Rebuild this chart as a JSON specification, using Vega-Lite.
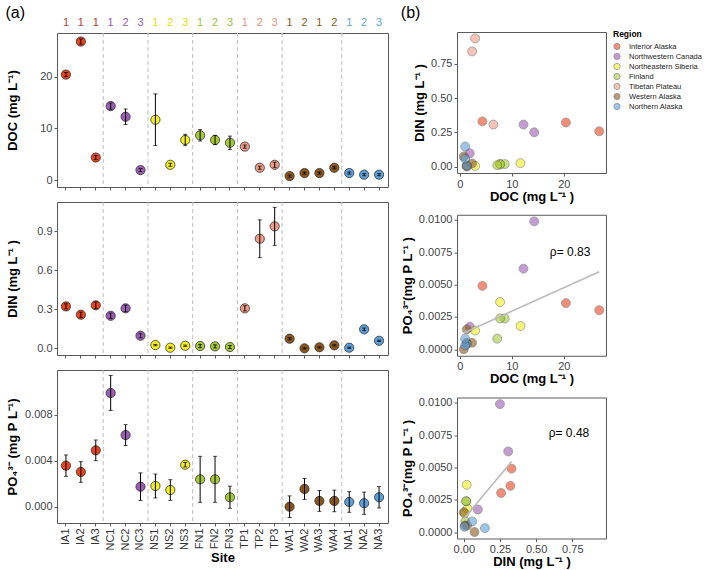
{
  "$schema": "https://vega.github.io/schema/vega-lite/v6.json",
  "padding": 5,
  "config": {
    "font": "Liberation Sans",
    "view": {"stroke": "#5a5a5a", "strokeWidth": 1},
    "axis": {"domain": false, "grid": false, "tickColor": "#5a5a5a", "tickSize": 3, "labelColor": "#444", "labelFontSize": 11, "labelFont": "Liberation Sans", "titleFont": "Liberation Sans", "titleFontSize": 13, "titleFontWeight": "bold", "titleColor": "black", "labelPadding": 2, "titlePadding": 4},
    "title": {"font": "Liberation Sans", "fontSize": 16, "fontWeight": "normal", "anchor": "start", "frame": "bounds", "color": "black", "offset": -7}
  },
  "datasets": {
    "sites": [
      {"site": "IA1", "region": "Interior Alaska", "rep": "1", "doc": 20.4, "doc_se": 0.4, "din": 0.322, "din_se": 0.02, "po4": 0.00357, "po4_se": 0.00093},
      {"site": "IA2", "region": "Interior Alaska", "rep": "1", "doc": 26.8, "doc_se": 0.5, "din": 0.258, "din_se": 0.02, "po4": 0.00302, "po4_se": 0.0009},
      {"site": "IA3", "region": "Interior Alaska", "rep": "1", "doc": 4.35, "doc_se": 0.4, "din": 0.33, "din_se": 0.025, "po4": 0.0049, "po4_se": 0.0009},
      {"site": "NC1", "region": "Northwestern Canada", "rep": "1", "doc": 14.3, "doc_se": 0.6, "din": 0.25, "din_se": 0.02, "po4": 0.00989, "po4_se": 0.00152},
      {"site": "NC2", "region": "Northwestern Canada", "rep": "2", "doc": 12.25, "doc_se": 1.5, "din": 0.307, "din_se": 0.025, "po4": 0.00623, "po4_se": 0.00091},
      {"site": "NC3", "region": "Northwestern Canada", "rep": "3", "doc": 1.92, "doc_se": 0.3, "din": 0.097, "din_se": 0.015, "po4": 0.00174, "po4_se": 0.0012},
      {"site": "NS1", "region": "Northeastern Siberia", "rep": "1", "doc": 11.67, "doc_se": 5.0, "din": 0.025, "din_se": 0.005, "po4": 0.0018, "po4_se": 0.00104},
      {"site": "NS2", "region": "Northeastern Siberia", "rep": "2", "doc": 2.95, "doc_se": 0.3, "din": 0.005, "din_se": 0.005, "po4": 0.00145, "po4_se": 0.0009},
      {"site": "NS3", "region": "Northeastern Siberia", "rep": "3", "doc": 7.75, "doc_se": 1.1, "din": 0.02, "din_se": 0.005, "po4": 0.00365, "po4_se": 0.0002},
      {"site": "FN1", "region": "Finland", "rep": "1", "doc": 8.65, "doc_se": 1.1, "din": 0.018, "din_se": 0.012, "po4": 0.00238, "po4_se": 0.002},
      {"site": "FN2", "region": "Finland", "rep": "2", "doc": 7.75, "doc_se": 0.9, "din": 0.015, "din_se": 0.012, "po4": 0.00238, "po4_se": 0.002},
      {"site": "FN3", "region": "Finland", "rep": "3", "doc": 7.2, "doc_se": 1.3, "din": 0.01, "din_se": 0.012, "po4": 0.00082, "po4_se": 0.00096},
      {"site": "TP1", "region": "Tibetan Plateau", "rep": "1", "doc": 6.47, "doc_se": 0.3, "din": 0.307, "din_se": 0.02, "po4": null, "po4_se": null},
      {"site": "TP2", "region": "Tibetan Plateau", "rep": "2", "doc": 2.37, "doc_se": 0.3, "din": 0.841, "din_se": 0.145, "po4": null, "po4_se": null},
      {"site": "TP3", "region": "Tibetan Plateau", "rep": "3", "doc": 2.95, "doc_se": 0.5, "din": 0.936, "din_se": 0.146, "po4": null, "po4_se": null},
      {"site": "WA1", "region": "Western Alaska", "rep": "1", "doc": 0.77, "doc_se": 0.2, "din": 0.074, "din_se": 0.008, "po4": 0.0, "po4_se": 0.00094},
      {"site": "WA2", "region": "Western Alaska", "rep": "2", "doc": 1.35, "doc_se": 0.2, "din": 0.0, "din_se": 0.005, "po4": 0.00154, "po4_se": 0.00091},
      {"site": "WA3", "region": "Western Alaska", "rep": "1", "doc": 1.35, "doc_se": 0.2, "din": 0.008, "din_se": 0.005, "po4": 0.0005, "po4_se": 0.00091},
      {"site": "WA4", "region": "Western Alaska", "rep": "2", "doc": 2.37, "doc_se": 0.2, "din": 0.023, "din_se": 0.005, "po4": 0.0005, "po4_se": 0.00094},
      {"site": "NA1", "region": "Northern Alaska", "rep": "1", "doc": 1.35, "doc_se": 0.2, "din": 0.005, "din_se": 0.005, "po4": 0.00041, "po4_se": 0.0009},
      {"site": "NA2", "region": "Northern Alaska", "rep": "2", "doc": 1.03, "doc_se": 0.2, "din": 0.146, "din_se": 0.01, "po4": 0.0003, "po4_se": 0.00097},
      {"site": "NA3", "region": "Northern Alaska", "rep": "3", "doc": 1.03, "doc_se": 0.2, "din": 0.058, "din_se": 0.005, "po4": 0.00082, "po4_se": 0.00093}
    ],
    "breaks": [{"site": "NC1"}, {"site": "NS1"}, {"site": "FN1"}, {"site": "TP1"}, {"site": "WA1"}, {"site": "NA1"}]
  },
  "resolve": {"scale": {"color": "independent"}, "legend": {"color": "independent"}},
  "spacing": 11,
  "hconcat": [
    {
      "title": {"text": "(a)"},
      "spacing": 10,
      "vconcat": [
        {
          "spacing": 0,
          "vconcat": [
            {
              "width": 331, "height": 18,
              "view": {"stroke": null},
              "data": {"name": "sites"},
              "mark": {"type": "text", "fontSize": 11},
              "encoding": {
                "x": {"field": "site", "type": "nominal", "sort": null, "axis": null,
                      "scale": {"type": "band", "paddingInner": 0, "paddingOuter": 0.1, "domain": ["IA1","IA2","IA3","NC1","NC2","NC3","NS1","NS2","NS3","FN1","FN2","FN3","TP1","TP2","TP3","WA1","WA2","WA3","WA4","NA1","NA2","NA3"]}},
                "text": {"field": "rep"},
                "fill": {"field": "region", "type": "nominal", "legend": null,
                         "scale": {"domain": ["Interior Alaska","Northwestern Canada","Northeastern Siberia","Finland","Tibetan Plateau","Western Alaska","Northern Alaska"],
                                   "range": ["#B23A2C","#9B59B6","#E6DA10","#99C23A","#E8907A","#8B5A1B","#5DA5DA"]}}
              }
            },
            {
              "width": 331, "height": 154,
              "layer": [
                {"data": {"name": "breaks"}, "mark": {"type": "rule", "color": "#bdbdbd", "strokeDash": [4, 3], "strokeWidth": 1},
                 "encoding": {"x": {"field": "site", "type": "nominal", "bandPosition": 0}}},
                {"mark": {"type": "rule", "color": "#333", "strokeWidth": 1}, "encoding": {"y": {"datum": 0}}},
                {"data": {"name": "sites"}, "mark": {"type": "point", "filled": true, "size": 85, "opacity": 1, "stroke": "#333", "strokeWidth": 0.8},
                 "encoding": {"y": {"field": "doc", "type": "quantitative"}, "x": {"field": "site", "type": "nominal"},
                              "color": {"field": "region", "type": "nominal", "legend": null,
                                        "scale": {"domain": ["Interior Alaska","Northwestern Canada","Northeastern Siberia","Finland","Tibetan Plateau","Western Alaska","Northern Alaska"],
                                                  "range": ["#E8441F","#9E5BB5","#F3F01A","#A6C93A","#EE9C87","#8A561B","#5C9FD6"]}}}},
                {"data": {"name": "sites"}, "mark": {"type": "errorbar", "color": "black", "thickness": 1, "ticks": {"size": 4, "color": "black"}},
                 "encoding": {"x": {"field": "site", "type": "nominal"}, "y": {"field": "doc", "type": "quantitative"}, "yError": {"field": "doc_se"}}}
              ],
              "encoding": {
                "x": {"field": "site", "type": "nominal", "sort": null,
                      "scale": {"type": "band", "paddingInner": 0, "paddingOuter": 0.1, "domain": ["IA1","IA2","IA3","NC1","NC2","NC3","NS1","NS2","NS3","FN1","FN2","FN3","TP1","TP2","TP3","WA1","WA2","WA3","WA4","NA1","NA2","NA3"]},
                      "axis": {"labels": false, "title": null, "ticks": true}},
                "y": {"type": "quantitative", "scale": {"domain": [-1.35, 28.45], "nice": false, "zero": false},
                      "axis": {"values": [0, 10, 20], "title": "DOC (mg L⁻¹)", "titleX": -38}}
              }
            }
          ]
        },
        {
          "width": 331, "height": 153,
          "layer": [
            {"data": {"name": "breaks"}, "mark": {"type": "rule", "color": "#bdbdbd", "strokeDash": [4, 3], "strokeWidth": 1},
             "encoding": {"x": {"field": "site", "type": "nominal", "bandPosition": 0}}},
            {"mark": {"type": "rule", "color": "#333", "strokeWidth": 1}, "encoding": {"y": {"datum": 0}}},
            {"data": {"name": "sites"}, "mark": {"type": "point", "filled": true, "size": 85, "opacity": 1, "stroke": "#333", "strokeWidth": 0.8},
             "encoding": {"y": {"field": "din", "type": "quantitative"}, "color": {"field": "region", "type": "nominal", "legend": null}, "x": {"field": "site", "type": "nominal"}}},
            {"data": {"name": "sites"}, "mark": {"type": "errorbar", "color": "black", "thickness": 1, "ticks": {"size": 4, "color": "black"}},
             "encoding": {"x": {"field": "site", "type": "nominal"}, "y": {"field": "din", "type": "quantitative"}, "yError": {"field": "din_se"}}}
          ],
          "encoding": {
            "x": {"field": "site", "type": "nominal", "sort": null,
                  "scale": {"type": "band", "paddingInner": 0, "paddingOuter": 0.1, "domain": ["IA1","IA2","IA3","NC1","NC2","NC3","NS1","NS2","NS3","FN1","FN2","FN3","TP1","TP2","TP3","WA1","WA2","WA3","WA4","NA1","NA2","NA3"]},
                  "axis": {"labels": false, "title": null, "ticks": true}},
            "y": {"type": "quantitative", "scale": {"domain": [-0.051, 1.123], "nice": false, "zero": false},
                  "axis": {"values": [0, 0.3, 0.6, 0.9], "format": ".1f", "title": "DIN (mg L⁻¹ )", "titleX": -38}}
          }
        },
        {
          "width": 331, "height": 153,
          "layer": [
            {"data": {"name": "breaks"}, "mark": {"type": "rule", "color": "#bdbdbd", "strokeDash": [4, 3], "strokeWidth": 1},
             "encoding": {"x": {"field": "site", "type": "nominal", "bandPosition": 0}}},
            {"mark": {"type": "rule", "color": "#333", "strokeWidth": 1}, "encoding": {"y": {"datum": 0}}},
            {"data": {"name": "sites"}, "transform": [{"filter": "isValid(datum.po4)"}],
             "mark": {"type": "point", "filled": true, "size": 85, "opacity": 1, "stroke": "#333", "strokeWidth": 0.8},
             "encoding": {"y": {"field": "po4", "type": "quantitative"}, "color": {"field": "region", "type": "nominal", "legend": null}, "x": {"field": "site", "type": "nominal"}}},
            {"data": {"name": "sites"}, "transform": [{"filter": "isValid(datum.po4)"}],
             "mark": {"type": "errorbar", "color": "black", "thickness": 1, "ticks": {"size": 4, "color": "black"}},
             "encoding": {"x": {"field": "site", "type": "nominal"}, "y": {"field": "po4", "type": "quantitative"}, "yError": {"field": "po4_se"}}}
          ],
          "encoding": {
            "x": {"field": "site", "type": "nominal", "sort": null,
                  "scale": {"type": "band", "paddingInner": 0, "paddingOuter": 0.1, "domain": ["IA1","IA2","IA3","NC1","NC2","NC3","NS1","NS2","NS3","FN1","FN2","FN3","TP1","TP2","TP3","WA1","WA2","WA3","WA4","NA1","NA2","NA3"]},
                  "axis": {"labelAngle": 270, "title": "Site", "labelColor": "#333", "titlePadding": 0}},
            "y": {"type": "quantitative", "scale": {"domain": [-0.00142, 0.01189], "nice": false, "zero": false},
                  "axis": {"values": [0, 0.004, 0.008, 0.012], "format": ".3f", "title": "PO₄³⁻ (mg P L⁻¹)", "titleX": -38}}
          }
        }
      ]
    },
    {
      "title": {"text": "(b)"},
      "spacing": 8.75,
      "vconcat": [
        {
          "spacing": 0,
          "vconcat": [
            {"width": 149, "height": 16.5, "view": {"stroke": null}, "data": {"values": [{"t": ""}]}, "mark": "text", "encoding": {"text": {"field": "t"}}},
            {
              "width": 149, "height": 141,
              "data": {"name": "sites"},
              "mark": {"type": "point", "filled": true, "size": 80, "opacity": 0.6, "stroke": "#444", "strokeWidth": 0.7},
              "encoding": {
                "x": {"field": "doc", "type": "quantitative", "scale": {"domain": [-0.53, 28.1], "nice": false, "zero": false},
                      "axis": {"values": [0, 10, 20], "title": "DOC (mg L⁻¹ )", "titlePadding": 1}},
                "y": {"field": "din", "type": "quantitative", "scale": {"domain": [-0.047, 0.983], "nice": false, "zero": false},
                      "axis": {"values": [0, 0.25, 0.5, 0.75], "format": ".2f", "title": "DIN (mg L⁻¹ )"}},
                "color": {"field": "region", "type": "nominal",
                          "scale": {"domain": ["Interior Alaska","Northwestern Canada","Northeastern Siberia","Finland","Tibetan Plateau","Western Alaska","Northern Alaska"],
                                    "range": ["#E8441F","#9E5BB5","#F3F01A","#A6C93A","#EE9C87","#8A561B","#5C9FD6"]},
                          "legend": {"title": "Region", "orient": "none", "legendX": 156, "legendY": 16, "titleFontSize": 8.5, "titleFontWeight": "bold", "titleColor": "black", "labelFontSize": 7.5, "labelColor": "#222", "symbolType": "circle", "symbolSize": 40, "symbolOpacity": 0.6, "symbolStrokeColor": "#444", "symbolStrokeWidth": 0.7, "rowPadding": 0, "titlePadding": 4, "labelOffset": 8}}
              }
            }
          ]
        },
        {
          "width": 149, "height": 141,
          "layer": [
            {"data": {"name": "sites"}, "transform": [{"filter": "isValid(datum.po4)"}],
             "mark": {"type": "point", "filled": true, "size": 80, "opacity": 0.6, "stroke": "#444", "strokeWidth": 0.7},
             "encoding": {"x": {"field": "doc", "type": "quantitative"}, "y": {"field": "po4", "type": "quantitative"}, "color": {"field": "region", "type": "nominal"}}},
            {"data": {"name": "sites"}, "transform": [{"filter": "isValid(datum.po4)"}, {"regression": "po4", "on": "doc"}],
             "mark": {"type": "line", "color": "#bbbbbb", "strokeWidth": 1.6},
             "encoding": {"x": {"field": "doc", "type": "quantitative"}, "y": {"field": "po4", "type": "quantitative"}}},
            {"data": {"values": [{"label": "ρ= 0.83"}]},
             "mark": {"type": "text", "fontSize": 12, "color": "black"},
             "encoding": {"x": {"datum": 21.2}, "y": {"datum": 0.00755}, "text": {"field": "label"}}}
          ],
          "encoding": {
            "x": {"type": "quantitative", "scale": {"domain": [-0.53, 28.1], "nice": false, "zero": false},
                  "axis": {"values": [0, 10, 20], "title": "DOC (mg L⁻¹ )", "titlePadding": 1}},
            "y": {"type": "quantitative", "scale": {"domain": [-0.0005, 0.0104], "nice": false, "zero": false},
                  "axis": {"values": [0, 0.0025, 0.005, 0.0075, 0.01], "format": ".4f", "title": "PO₄³⁻(mg P L⁻¹ )"}}
          }
        },
        {
          "width": 149, "height": 141,
          "layer": [
            {"data": {"name": "sites"}, "transform": [{"filter": "isValid(datum.po4)"}],
             "mark": {"type": "point", "filled": true, "size": 80, "opacity": 0.6, "stroke": "#444", "strokeWidth": 0.7},
             "encoding": {"x": {"field": "din", "type": "quantitative"}, "y": {"field": "po4", "type": "quantitative"}, "color": {"field": "region", "type": "nominal"}}},
            {"data": {"name": "sites"}, "transform": [{"filter": "isValid(datum.po4)"}, {"regression": "po4", "on": "din"}],
             "mark": {"type": "line", "color": "#bbbbbb", "strokeWidth": 1.6},
             "encoding": {"x": {"field": "din", "type": "quantitative"}, "y": {"field": "po4", "type": "quantitative"}}},
            {"data": {"values": [{"label": "ρ= 0.48"}]},
             "mark": {"type": "text", "fontSize": 12, "color": "black"},
             "encoding": {"x": {"datum": 0.727}, "y": {"datum": 0.00766}, "text": {"field": "label"}}}
          ],
          "encoding": {
            "x": {"type": "quantitative", "scale": {"domain": [-0.047, 0.983], "nice": false, "zero": false},
                  "axis": {"values": [0, 0.25, 0.5, 0.75], "format": ".2f", "title": "DIN (mg L⁻¹  )", "titlePadding": 1}},
            "y": {"type": "quantitative", "scale": {"domain": [-0.0005, 0.0104], "nice": false, "zero": false},
                  "axis": {"values": [0, 0.0025, 0.005, 0.0075, 0.01], "format": ".4f", "title": "PO₄³⁻(mg P L⁻¹ )"}}
          }
        }
      ]
    }
  ]
}
